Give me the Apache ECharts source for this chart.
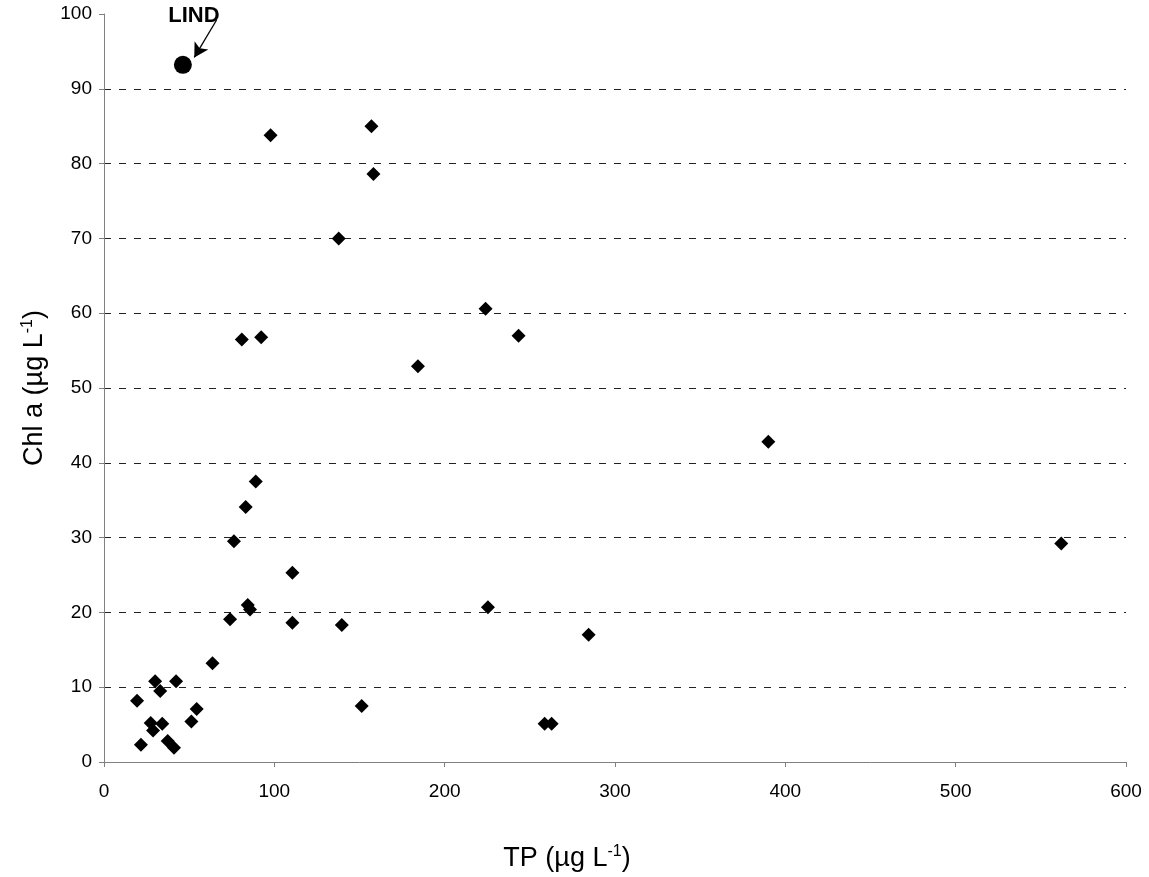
<!DOCTYPE html>
<html>
<head>
<meta charset="utf-8">
<script src="https://cdn.jsdelivr.net/npm/echarts@6/dist/echarts.min.js"></script>
<style>html,body{margin:0;padding:0;background:#fff}#c{width:1149px;height:877px}</style>
</head>
<body>
<div id="c"></div>
<script>
// TP (µg/L) and Chl a (µg/L) for lakes
const tpValues = [19.4,21.7,27.4,28.8,30,33,34.2,37.4,41.1,42.3,51.3,54.4,63.7,74,76.3,80.9,83.2,84.4,85.7,89.1,92.3,97.8,110.6,110.6,137.8,139.6,151.3,157,158.2,184.3,224,225.4,243.4,258.7,262.8,284.5,390,562];
const chlValues = [8.2,2.3,5.2,4.2,10.8,9.5,5.1,2.8,1.9,10.8,5.4,7.1,13.2,19.1,29.5,56.5,34.1,21.0,20.4,37.5,56.8,83.8,25.3,18.6,70,18.3,7.5,85,78.6,52.9,60.6,20.7,57,5.1,5.1,17,42.8,29.2];
// Highlighted lake
const lindName = 'LIND';
const lindTP = [46.3];
const lindChl = [93.2];
// Arrow annotation (data coords)
const arrowFrom = [66.1, 99.2];
const arrowTo = [53, 94.2];
// Axis ticks
const xTicks = [0,100,200,300,400,500,600];
const yTicks = [0,10,20,30,40,50,60,70,80,90,100];

const lakes = tpValues.map((v,i)=>[v, chlValues[i]]);
const lind = lindTP.map((v,i)=>[v, lindChl[i]]);

const chart = echarts.init(document.getElementById('c'));
const font = 'Liberation Sans, Arial, sans-serif';
chart.setOption({
  animation:false,
  backgroundColor:'#fff',
  grid:{left:104, right:23, top:14, bottom:115},
  xAxis:{
    type:'value', min:xTicks[0], max:xTicks[xTicks.length-1], interval:xTicks[1]-xTicks[0],
    axisLine:{show:true, lineStyle:{color:'#808080', width:1}},
    axisTick:{show:true, inside:false, length:5, lineStyle:{color:'#808080'}},
    axisLabel:{color:'#000', fontSize:19, fontFamily:font, margin:20},
    splitLine:{show:false},
    name:'TP (µg L{sup|-1})',
    nameLocation:'middle', nameGap:82,
    nameTextStyle:{color:'#000', fontSize:27, fontFamily:font, padding:[0,96,0,0],
      rich:{sup:{fontSize:16, fontFamily:font, color:'#000', verticalAlign:'top', padding:[0,0,13,0]}}}
  },
  yAxis:{
    type:'value', min:yTicks[0], max:yTicks[yTicks.length-1], interval:yTicks[1]-yTicks[0],
    axisLine:{show:true, lineStyle:{color:'#808080', width:1}},
    axisTick:{show:true, inside:false, length:5, lineStyle:{color:'#808080'}},
    axisLabel:{color:'#000', fontSize:19, fontFamily:font, margin:12},
    splitLine:{show:true, showMinLine:false, showMaxLine:false, lineStyle:{color:'#222', type:[7,8], width:1}},
    name:'Chl a (µg L{sup|-1})',
    nameLocation:'middle', nameGap:55,
    nameTextStyle:{color:'#000', fontSize:27, fontFamily:font,
      rich:{sup:{fontSize:16, fontFamily:font, color:'#000', verticalAlign:'top', padding:[0,0,13,0]}}}
  },
  series:[
    {type:'scatter', data:lakes, symbol:'diamond', symbolSize:14,
      itemStyle:{color:'#000', opacity:1}},
    {type:'scatter', data:lind, symbol:'circle', symbolSize:18,
      itemStyle:{color:'#000', opacity:1},
      label:{show:true, formatter:lindName, position:'inside', offset:[11,-49],
        fontWeight:'bold', fontSize:22, fontFamily:font, color:'#000'},
      markLine:{silent:true, symbol:['none','arrow'], symbolSize:[12,14],
        label:{show:false},
        lineStyle:{color:'#000', type:'solid', width:1.3},
        data:[[{coord:arrowFrom},{coord:arrowTo}]]}
    }
  ]
});
</script>
</body>
</html>
